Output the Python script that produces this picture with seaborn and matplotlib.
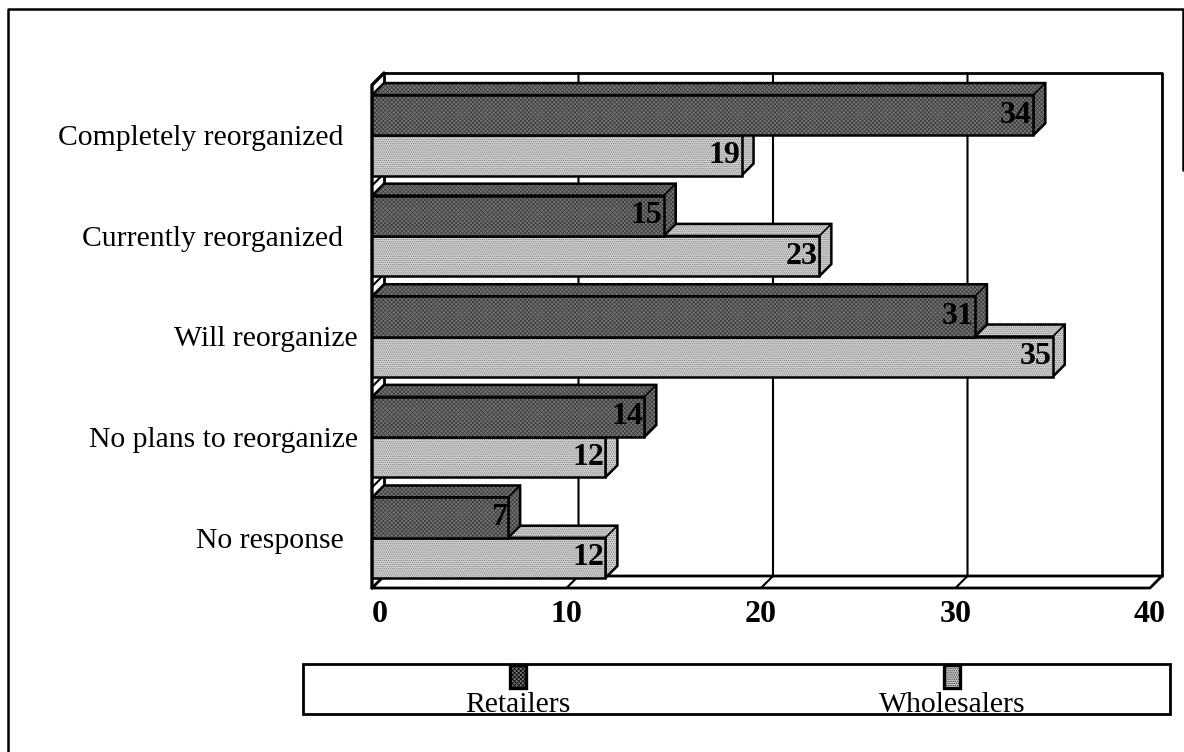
import matplotlib
matplotlib.use("Agg")
import matplotlib.pyplot as plt
from matplotlib.patches import Polygon, Rectangle
from matplotlib.lines import Line2D
import pandas as pd
import seaborn as sns

categories = ["Completely reorganized  ", "Currently reorganized  ", "Will reorganize",
              "No plans to reorganize", "No response  "]
retailers = [34, 15, 31, 14, 7]
wholesalers = [19, 23, 35, 12, 12]
series_names = ["Retailers", "Wholesalers"]
axis_ticks = [0, 10, 20, 30, 40]

W, H = 1184, 752
DX, DY = 12, 12
SERIF = ["Liberation Serif", "DejaVu Serif"]
FILL = {"Retailers": "#757575", "Wholesalers": "#d0d0d0"}
HATCH = {"Retailers": "xxxxxxxx", "Wholesalers": "........"}
HATCH_COL = {"Retailers": "#383838", "Wholesalers": "#777777"}

sns.set_theme(style="white")
plt.rcParams["font.family"] = SERIF
plt.rcParams["hatch.linewidth"] = 0.5

df = pd.DataFrame({"category": categories * 2,
                   "value": retailers + wholesalers,
                   "series": [series_names[0]] * 5 + [series_names[1]] * 5})

fig = plt.figure(figsize=(W / 100, H / 100), dpi=100)
fig.patch.set_facecolor("white")
L, R, T, B = 372, 1150, 85, 588
ax = fig.add_axes([L / W, 1 - B / H, (R - L) / W, (B - T) / H])
sns.barplot(data=df, y="category", x="value", hue="series", order=categories,
            hue_order=series_names, palette=FILL, width=0.8, saturation=1,
            orient="h", legend=False, ax=ax, zorder=5)
ax.set_xlim(axis_ticks[0], axis_ticks[-1])
ax.set_ylim(4.5, -0.5)
ax.set_xlabel("")
ax.set_ylabel("")
ax.set_xticks(axis_ticks)
ax.set_xticklabels([str(t) for t in axis_ticks], fontsize=23, fontweight="bold",
                   family=SERIF, color="black")
ax.get_xticklabels()[0].set_ha("left")
ax.tick_params(axis="x", length=0, pad=9)
ax.tick_params(axis="y", length=0, pad=10)
for lab in ax.get_yticklabels():
    lab.set_fontsize(21.3)
    lab.set_family(SERIF)
    lab.set_color("black")
for s in ax.spines.values():
    s.set_visible(False)
ax.patch.set_alpha(0)

px = ax.transData.transform
def pxpoly(points, **kw):
    art = Polygon(points, closed=True, transform=None, clip_on=False, **kw)
    ax.add_artist(art)
    return art
def pxline(xs, ys, lw=1.6, z=1):
    ax.add_artist(Line2D(xs, ys, transform=None, color="black", lw=lw, clip_on=False, zorder=z))

# 3-D chart box: back wall, left wall and floor
(x0, ybot), (x1, ytop) = px((axis_ticks[0], 4.5)), px((axis_ticks[-1], -0.5))
pxline([x0, x1, x1 + DX, x0 + DX, x0, x0], [ybot, ybot, ybot + DY, ybot + DY, ybot, ybot], lw=2)
pxline([x0 + DX, x0 + DX, x1 + DX, x1 + DX], [ybot + DY, ytop + DY, ytop + DY, ybot + DY], lw=2)
pxline([x0, x0, x0 + DX], [ybot, ytop, ytop + DY], lw=2.4)
for t in axis_ticks[1:-1]:
    xt = px((t, 0))[0]
    pxline([xt, xt + DX, xt + DX], [ybot, ybot + DY, ytop + DY], lw=1.5)
for i in range(len(categories) + 1):
    yc = px((0, i - 0.5))[1]
    pxline([x0, x0 + DX], [yc, yc + DY], lw=1.5)

# Bars: front faces from seaborn, side and top faces follow from each bar's box
n = len(categories)
for j, name in enumerate(series_names):
    cont = ax.containers[j]
    for k, bar in enumerate(cont):
        (xa, ya), (xb, yb) = px((bar.get_x(), bar.get_y())), px((bar.get_x() + bar.get_width(), bar.get_y() + bar.get_height()))
        ytp, ybt = max(ya, yb), min(ya, yb)
        zbase = 2 + (n - k) + (1 - j) * 0.5
        fc, hc = FILL[name], HATCH_COL[name]
        pxpoly([(xa, ytp), (xa + DX, ytp + DY), (xb + DX, ytp + DY), (xb, ytp)],
               facecolor=fc, edgecolor=hc, hatch=HATCH[name], lw=0, zorder=zbase)
        pxpoly([(xb, ybt), (xb + DX, ybt + DY), (xb + DX, ytp + DY), (xb, ytp)],
               facecolor=fc, edgecolor=hc, hatch=HATCH[name], lw=0, zorder=zbase)
        pxpoly([(xa, ytp), (xa + DX, ytp + DY), (xb + DX, ytp + DY), (xb + DX, ybt + DY), (xb, ybt), (xb, ytp)],
               facecolor="none", edgecolor="black", lw=1.8, zorder=zbase + 0.1)
        pxline([xb, xb + DX], [ytp, ytp + DY], lw=1.2, z=zbase + 0.1)
        bar.set_hatch(HATCH[name])
        bar.set_edgecolor(hc)
        bar.set_linewidth(0)
        bar.set_zorder(zbase + 0.2)
        pxpoly([(xa, ybt), (xa, ytp), (xb, ytp), (xb, ybt)], facecolor="none",
               edgecolor="black", lw=1.8, zorder=zbase + 0.3)
    labels = ax.bar_label(cont, padding=-1, fontsize=23, fontweight="bold",
                          family=SERIF, color="black")
    for lab in labels:
        lab.set_ha("right")
        lab.set_zorder(30)

# Outer frame: only the left edge, the top edge and a short stretch of the right edge show
fig.add_artist(Line2D([8 / W, 8 / W, 1182.5 / W, 1182.5 / W],
                      [0, 1 - 9 / H, 1 - 9 / H, 1 - 170 / H],
                      transform=fig.transFigure, color="black", lw=1.8))

# Legend box
fig.add_artist(Rectangle((303 / W, 1 - 714 / H), 867 / W, 50 / H, transform=fig.transFigure,
                         facecolor="none", edgecolor="black", lw=2))
for name, xc in zip(series_names, (518, 952)):
    fig.add_artist(Rectangle(((xc - 8) / W, 1 - 688 / H), 16 / W, 23 / H, transform=fig.transFigure,
                             facecolor=FILL[name], edgecolor="black", lw=2.4,
                             hatch=HATCH[name]))
    fig.text(xc / W, 1 - 705 / H, name, ha="center", va="center", fontsize=21.3,
             family=SERIF, color="black", zorder=10)

fig.savefig("out.png", dpi=100)
